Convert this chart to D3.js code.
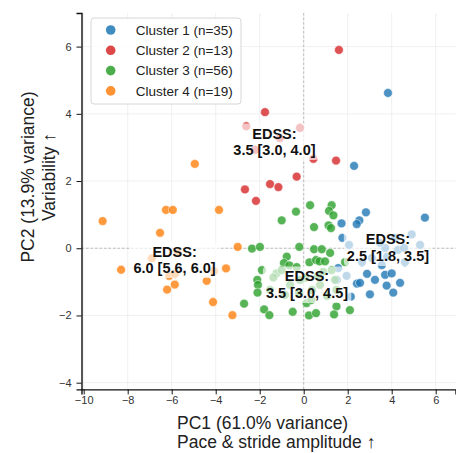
<!DOCTYPE html>
<html>
<head>
<meta charset="utf-8">
<script src="https://cdn.jsdelivr.net/npm/d3@7"></script>
<style>
  body { margin: 0; background: #fff; }
  svg text { font-family: "Liberation Sans", Arial, sans-serif; }
</style>
</head>
<body>
<div id="chart"></div>
<script>
//Chart data
const clusterNames = ['Cluster 1 (n=35)', 'Cluster 2 (n=13)', 'Cluster 3 (n=56)', 'Cluster 4 (n=19)'];
const clusterColors = ['#1f77b4', '#d62728', '#2ca02c', '#ff7f0e'];

const cluster1 = [
	[3.83,4.62],[2.29,2.45],[2.83,1.07],[2.53,0.83],[2.41,0.72],[1.72,0.74],[5.51,0.91],
	[4.91,0.41],[1.76,0.31],[2.06,0.10],[3.70,0.01],[3.79,-0.25],[3.55,-0.50],[4.60,-0.41],
	[3.70,-0.79],[4.00,-0.75],[2.88,-0.76],[3.77,-1.11],[2.42,-1.05],[2.56,-1.03],[3.01,-1.37],
	[4.07,-1.32],[2.14,-1.44],[1.51,-0.94],[1.57,-0.59],[1.95,-0.82],[4.29,-0.05],[3.10,-0.29],
	[4.15,0.31],[3.47,0.16],[4.56,0.01],[2.65,-0.41],[3.24,-0.94],[4.38,-1.03],[5.29,0.10]
];
const cluster2 = [
	[1.60,5.90],[-1.76,4.05],[-2.61,3.63],[-1.08,3.28],[0.44,2.66],[1.47,2.61],[-0.32,2.13],
	[-1.53,1.91],[-1.15,1.82],[-2.67,1.75],[-2.17,1.41],[-2.21,2.93],[-0.17,3.58]
];
const cluster3 = [
	[0.29,1.28],[1.27,1.28],[1.15,1.11],[1.35,0.98],[-0.35,1.09],[-1.00,0.83],[0.47,0.63],
	[1.13,0.68],[1.24,0.60],[-2.35,-0.01],[-1.99,0.04],[-0.20,0.04],[0.47,-0.03],[0.82,-0.03],
	[1.20,-0.14],[-0.77,-0.25],[-0.90,-0.44],[-0.65,-0.51],[-0.32,-0.56],[0.26,-0.42],[0.56,-0.35],
	[0.72,-0.39],[0.97,-0.39],[0.89,-0.70],[1.27,-0.65],[1.42,-0.94],[-1.24,-0.75],[-1.38,-0.87],
	[-2.11,-0.94],[-2.08,-1.09],[-2.10,-1.32],[-2.71,-1.65],[-1.80,-1.82],[-1.56,-1.99],[-0.50,-1.89],
	[0.24,-2.00],[0.56,-1.93],[1.49,-1.73],[1.38,-1.97],[2.10,-1.84],[0.13,-1.63],[0.35,-1.54],
	[-0.21,-1.33],[1.49,-1.24],[-1.00,-0.65],[-0.62,-1.09],[0.74,-1.09],[0.06,-0.88],[0.38,-1.24],
	[-0.85,-1.39],[1.06,-1.42],[-1.53,-1.24],[-0.17,-0.94],[0.65,-0.83],[-1.90,-0.65],[1.88,-0.41]
];
const cluster4 = [
	[-4.95,2.51],[-6.26,1.14],[-5.95,1.14],[-3.85,1.14],[-9.14,0.81],[-6.53,0.46],[-3.00,0.04],
	[-8.30,-0.64],[-6.11,-0.82],[-5.85,-0.76],[-5.73,-0.14],[-3.53,-0.60],[-4.41,-0.97],[-5.86,-1.08],
	[-6.21,-1.23],[-4.12,-1.60],[-3.24,-1.99],[-4.08,-0.68],[-6.90,-0.30]
];
const clusters = [cluster1, cluster2, cluster3, cluster4];

//EDSS annotations (text centre in data units)
const labelX = [3.83, -1.33, 0.15, -5.87];
const labelY = [-0.02, 3.13, -1.12, -0.38];
const labelText = [
	['EDSS:', '2.5 [1.8, 3.5]'],
	['EDSS:', '3.5 [3.0, 4.0]'],
	['EDSS:', '3.5 [3.0, 4.5]'],
	['EDSS:', '6.0 [5.6, 6.0]']
];

const xTicks = [-10, -8, -6, -4, -2, 0, 2, 4, 6];
const yTicks = [-4, -2, 0, 2, 4, 6];
const xLabel = ['PC1 (61.0% variance)', 'Pace & stride amplitude \u2191'];
const yLabel = ['PC2 (13.9% variance)', 'Variability \u2191'];

//Canvas
const w = 456, h = 453;
const m = {left: 81.5, right: 0.5, top: 13, bottom: 63.6};
const svg = d3.select('#chart').append('svg').attr('width', w).attr('height', h);

const x = d3.scaleLinear().domain([-10.1, 6.9]).range([m.left, w - m.right]);
const y = d3.scaleLinear().domain([-4.2, 7]).range([h - m.bottom, m.top]);

//Grid
const grid = svg.append('g');
grid.selectAll('.gx').data(xTicks).enter().append('line')
	.attr('x1', d => x(d)).attr('x2', d => x(d))
	.attr('y1', y.range()[1]).attr('y2', y.range()[0])
	.style('stroke', '#ececec').style('stroke-width', 0.8);
grid.selectAll('.gy').data(yTicks).enter().append('line')
	.attr('y1', d => y(d)).attr('y2', d => y(d))
	.attr('x1', x.range()[0]).attr('x2', x.range()[1])
	.style('stroke', '#ececec').style('stroke-width', 0.8);

//Zero reference lines
svg.append('line')
	.attr('x1', x(0)).attr('x2', x(0)).attr('y1', y.range()[1]).attr('y2', y.range()[0])
	.style('stroke', '#b0b0b0').style('stroke-width', 0.8).style('stroke-dasharray', '2.5,2');
svg.append('line')
	.attr('y1', y(0)).attr('y2', y(0)).attr('x1', x.range()[0]).attr('x2', x.range()[1])
	.style('stroke', '#b0b0b0').style('stroke-width', 0.8).style('stroke-dasharray', '2.5,2');

//Points
clusters.forEach((pts, i) => {
	svg.append('g').selectAll('circle')
		.data(pts).enter().append('circle')
		.attr('cx', d => x(d[0]))
		.attr('cy', d => y(d[1]))
		.attr('r', 4.4)
		.style('fill', clusterColors[i])
		.style('fill-opacity', 0.8)
		.style('stroke', '#fff')
		.style('stroke-width', 0.5);
});

//Axes
const xAxis = svg.append('g')
	.attr('transform', `translate(0,${y.range()[0]})`)
	.call(d3.axisBottom(x).tickValues(xTicks).tickSize(5).tickPadding(1.5));
const yAxis = svg.append('g')
	.attr('transform', `translate(${x.range()[0]},0)`)
	.call(d3.axisLeft(y).tickValues(yTicks).tickSize(5).tickPadding(5));
[xAxis, yAxis].forEach(a => {
	a.select('.domain').style('stroke', '#111').style('stroke-width', 1.4);
	a.selectAll('.tick line').style('stroke', '#111').style('stroke-width', 1);
	a.selectAll('.tick text').style('font-size', '11px').style('fill', '#333')
		.style('font-family', '"Liberation Sans", Arial, sans-serif');
});

//Annotations with translucent boxes
labelText.forEach((lines, i) => {
	const g = svg.append('g');
	const cx = x(labelX[i]), cy = y(labelY[i]);
	const box = g.append('rect');
	const t = g.append('text')
		.attr('text-anchor', 'middle')
		.style('font-size', '14.5px')
		.style('font-weight', 'bold')
		.style('fill', '#111');
	t.append('tspan').attr('x', cx).attr('y', cy - 4.5).text(lines[0]);
	t.append('tspan').attr('x', cx).attr('y', cy + 12).text(lines[1]);
	const bb = t.node().getBBox();
	box.attr('x', bb.x - 3).attr('y', bb.y - 2)
		.attr('width', bb.width + 6).attr('height', bb.height + 4)
		.attr('rx', 4)
		.style('fill', '#fff').style('fill-opacity', 0.65);
});

//Legend
const lg = svg.append('g').attr('transform', 'translate(91,18)');
lg.append('rect')
	.attr('width', 150).attr('height', 86).attr('rx', 3)
	.style('fill', '#fff').style('fill-opacity', 0.85)
	.style('stroke', '#d6d6d6').style('stroke-width', 1);
clusterNames.forEach((name, i) => {
	const row = lg.append('g').attr('transform', `translate(0,${12 + i * 20.3})`);
	row.append('circle').attr('cx', 19.7).attr('cy', 0).attr('r', 4.8)
		.style('fill', clusterColors[i]).style('fill-opacity', 0.85);
	row.append('text').attr('x', 44.7).attr('y', 4.8)
		.style('font-size', '13.5px').style('fill', '#222').text(name);
});

//Axis titles
const xt = svg.append('text').style('font-size', '17.5px').style('fill', '#222');
xt.append('tspan').attr('x', 177).attr('y', 429).text(xLabel[0]);
xt.append('tspan').attr('x', 177).attr('y', 448).text(xLabel[1]);

const yt = svg.append('g').attr('transform', 'translate(0,177) rotate(-90)')
	.append('text').attr('text-anchor', 'middle')
	.style('font-size', '17.5px').style('fill', '#222');
yt.append('tspan').attr('x', 0).attr('y', 33.5).text(yLabel[0]);
yt.append('tspan').attr('x', 0).attr('y', 55).text(yLabel[1]);
</script>
</body>
</html>
